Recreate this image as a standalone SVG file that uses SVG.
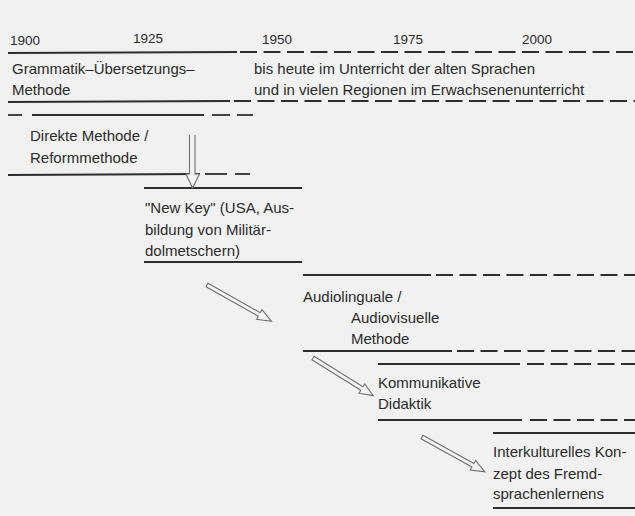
<svg xmlns="http://www.w3.org/2000/svg" width="635" height="516" viewBox="0 0 635 516">
<style>
text{font-family:"Liberation Sans",Arial,sans-serif;font-size:15px;fill:#2b2b2b}
.yr{font-size:13.5px}
.ln{stroke:#2e2e2e;stroke-width:1.8;fill:none}
.ds{stroke:#2e2e2e;stroke-width:1.8;fill:none;stroke-dasharray:17 6.5}
.ar{stroke:#707070;stroke-width:1.1;fill:#f3f3f3;stroke-linejoin:miter}
</style>
<defs>
<path id="ha" d="M0,-2 L60,-2 L60,-5.5 L74,0 L60,5.5 L60,2 L0,2 Z"/>
</defs>
<rect width="635" height="516" fill="#f1f1f1"/>
<g id="years">
<text class="yr" x="10" y="45">1900</text>
<text class="yr" x="133" y="43">1925</text>
<text class="yr" x="262" y="44">1950</text>
<text class="yr" x="393" y="44">1975</text>
<text class="yr" x="522" y="44">2000</text>
</g>
<g id="grammatik">
<line class="ln" x1="8" y1="53" x2="237" y2="52"/>
<line class="ds" x1="240" y1="52" x2="635" y2="52"/>
<text x="12" y="74">Grammatik–Übersetzungs–</text>
<text x="12" y="95">Methode</text>
<text x="254" y="74">bis heute im Unterricht der alten Sprachen</text>
<text x="254" y="95">und in vielen Regionen im Erwachsenenunterricht</text>
<line class="ln" x1="8" y1="102" x2="230" y2="101"/>
<line class="ds" x1="234" y1="101" x2="635" y2="101"/>
</g>
<g id="direkte">
<line class="ln" x1="8" y1="115" x2="22" y2="115"/>
<line class="ln" x1="32" y1="115" x2="204" y2="115"/>
<line class="ln" x1="212" y1="115" x2="230" y2="115"/>
<line class="ln" x1="237" y1="115" x2="253" y2="115"/>
<text x="30" y="141">Direkte Methode /</text>
<text x="30" y="163">Reformmethode</text>
<line class="ln" x1="8" y1="175" x2="200" y2="174"/>
<line class="ln" x1="205" y1="174" x2="227" y2="174"/>
<line class="ln" x1="235" y1="174" x2="250" y2="174"/>
</g>
<g id="newkey">
<line class="ln" x1="144" y1="188" x2="302" y2="188"/>
<text x="145" y="213">"New Key" (USA, Aus-</text>
<text x="145" y="235">bildung von Militär-</text>
<text x="145" y="256">dolmetschern)</text>
<line class="ln" x1="144" y1="262" x2="302" y2="262"/>
</g>
<g id="audio">
<line class="ln" x1="303" y1="275" x2="431" y2="275"/>
<line class="ds" x1="436" y1="275" x2="635" y2="275"/>
<text x="303" y="302">Audiolinguale /</text>
<text x="351" y="323">Audiovisuelle</text>
<text x="351" y="344">Methode</text>
<line class="ln" x1="303" y1="351" x2="452" y2="351"/>
<line class="ds" x1="457" y1="351" x2="635" y2="351"/>
</g>
<g id="kommunikativ">
<line class="ln" x1="378" y1="364" x2="520" y2="364"/>
<line class="ds" x1="527" y1="364" x2="635" y2="364"/>
<text x="378" y="388">Kommunikative</text>
<text x="378" y="409">Didaktik</text>
<line class="ln" x1="378" y1="420" x2="522" y2="420"/>
<line class="ds" x1="530" y1="420" x2="635" y2="420"/>
</g>
<g id="interkulturell">
<line class="ln" x1="493" y1="433" x2="635" y2="433"/>
<text x="493" y="457">Interkulturelles Kon-</text>
<text x="493" y="479">zept des Fremd-</text>
<text x="493" y="499">sprachenlernens</text>
<line class="ln" x1="493" y1="508" x2="635" y2="508"/>
</g>
<g id="connectors">
<path class="ar" d="M189.5,135 L189.5,174 L186,174 L192.5,188 L199.5,174 L195,174 L195,135"/>
<use href="#ha" class="ar" transform="translate(207,285) rotate(29.4)"/>
<use href="#ha" class="ar" transform="translate(313,358) rotate(32) scale(0.96,1)"/>
<use href="#ha" class="ar" transform="translate(422,437) rotate(29) scale(0.97,1)"/>
</g>
</svg>
